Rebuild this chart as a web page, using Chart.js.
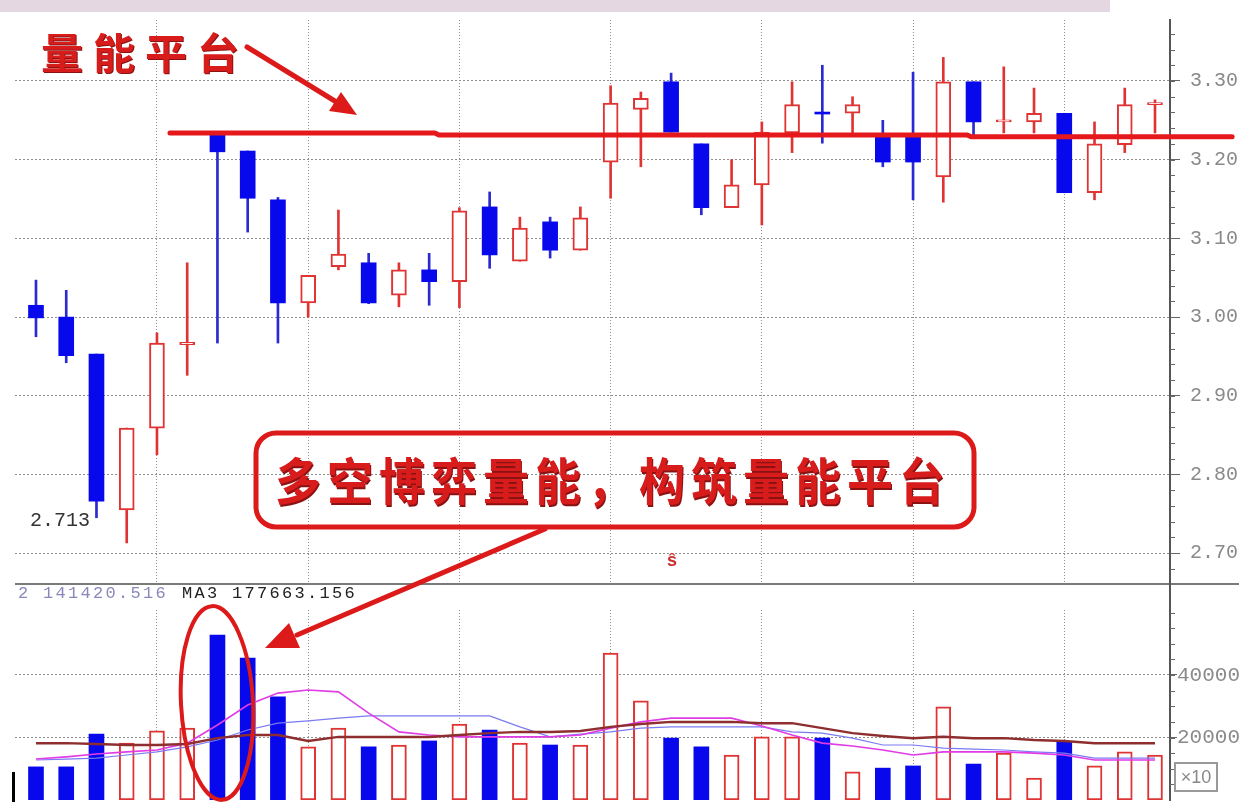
<!DOCTYPE html>
<html><head><meta charset="utf-8">
<script src="https://cdn.jsdelivr.net/npm/chart.js@4/dist/chart.umd.min.js"></script>
<style>
html,body{margin:0;padding:0;background:#fff;}
body{width:1239px;height:802px;position:relative;overflow:hidden;}
canvas{position:absolute;left:0;}
#pc{top:0;}
#vc{top:583px;}
.abs{position:absolute;white-space:nowrap;}
.cjk{font-family:"Noto Sans CJK SC","Noto Sans CJK JP",sans-serif;font-weight:700;color:#d81c1c;line-height:1;text-shadow:1px 1px 0 #8a1212;}
.mono{font-family:"Liberation Mono","DejaVu Sans Mono",monospace;line-height:1;}
</style></head><body>
<div class="abs" style="left:0;top:0;width:1110px;height:12px;background:#e4d7e2"></div>
<canvas id="pc" width="1239" height="584"></canvas>
<canvas id="vc" width="1239" height="219"></canvas>
<div class="abs" style="left:15px;top:583px;width:1224px;height:2px;background:#7a7a7a"></div>
<div class="abs" style="left:1169px;top:583px;width:2px;height:28px;background:#555"></div>
<div class="abs" style="left:12px;top:772px;width:3px;height:30px;background:#000"></div>
<div class="abs" style="left:1174px;top:762px;width:40px;height:26px;border:2px solid #9a9a9a;font:18px 'Liberation Sans',sans-serif;color:#888;line-height:26px;text-align:center">×10</div>

<div class="abs cjk" style="left:41px;top:30px;font-size:42px;letter-spacing:10px">量能平台</div>
<div class="abs cjk" style="left:275px;top:454px;font-size:46px;letter-spacing:6px;transform:scaleY(1.08);transform-origin:0 0">多空博弈量能，构筑量能平台</div>
<div class="abs mono" id="lowLabel" style="left:30px;top:511px;font-size:20px;color:#333"></div>
<div class="abs" style="left:667px;top:550px;font:bold 18px 'Liberation Sans',sans-serif;color:#c83030">ŝ</div>
<div class="abs mono" style="left:18px;top:585px;font-size:17px;letter-spacing:2.3px;color:#8888bb">2 141420.516</div>
<div class="abs mono" style="left:182px;top:585px;font-size:17px;letter-spacing:2.3px;color:#222">MA3 177663.156</div>

<svg class="abs" style="left:0;top:0;pointer-events:none" width="1239" height="802">
  <g stroke="#dd1a1a" fill="none">
    <line x1="247" y1="47" x2="338" y2="103" stroke-width="5" stroke-linecap="round"/>
    <rect x="256" y="433" width="718" height="94" rx="20" ry="20" stroke-width="5"/>
    <line x1="545" y1="529" x2="297" y2="635" stroke-width="5" stroke-linecap="round"/>
    <ellipse cx="217" cy="703" rx="36" ry="97" stroke-width="4" transform="rotate(-3 217 703)"/>
  </g>
  <g fill="#dd1a1a">
    <polygon points="357,115 329,111 341,92"/>
    <polygon points="265,648 289,623 300,648"/>
  </g>
</svg>

<script>
// ---- data ----
const days = Array.from({length: 38}, (_, i) => i + 1);
const open  = [3.015,3.000,2.953,2.755,2.859,2.965,3.231,3.211,3.149,3.018,3.064,3.069,3.028,3.060,3.045,3.140,3.071,3.121,3.085,3.197,3.264,3.299,3.220,3.139,3.168,3.234,3.259,3.259,3.229,3.229,3.178,3.299,3.248,3.248,3.259,3.158,3.219,3.270];
const high  = [3.047,3.034,2.953,2.859,2.980,3.069,3.234,3.211,3.152,3.053,3.136,3.081,3.069,3.081,3.139,3.159,3.127,3.127,3.140,3.294,3.286,3.310,3.220,3.200,3.248,3.299,3.320,3.280,3.250,3.311,3.330,3.299,3.318,3.291,3.259,3.248,3.291,3.276];
const low   = [2.975,2.942,2.745,2.713,2.825,2.926,2.967,3.108,2.967,3.000,3.060,3.017,3.013,3.015,3.012,3.062,3.071,3.075,3.085,3.151,3.191,3.235,3.130,3.139,3.117,3.209,3.221,3.231,3.191,3.149,3.146,3.231,3.234,3.234,3.158,3.149,3.209,3.234];
const close = [2.999,2.951,2.766,2.859,2.967,2.968,3.210,3.151,3.018,3.053,3.080,3.018,3.060,3.045,3.135,3.079,3.113,3.085,3.126,3.272,3.278,3.235,3.139,3.168,3.235,3.270,3.258,3.270,3.197,3.197,3.299,3.248,3.249,3.259,3.158,3.220,3.270,3.271];
const volume = [10600,10600,21100,18200,22100,23000,52800,45400,33000,17000,23000,17000,17600,18900,24300,22400,18200,17600,17600,47000,31700,19800,17000,14400,20200,20200,19800,9000,10200,10900,29800,11500,15000,7000,18600,10900,15400,14400];
const maBrown   = [18200,18200,17900,17600,17600,17900,19800,20800,20800,18900,20200,20200,20200,20200,20800,21400,21800,21800,22100,23400,24300,25000,25000,25000,24600,24600,23000,21400,20500,19800,20200,19800,19800,19200,18900,18200,18200,18200];
const maMagenta = [13100,13800,14700,15400,16000,18200,24000,30400,34200,35200,34600,27800,21800,20800,20200,20200,20200,20200,20800,23000,25000,26200,26200,26200,23700,20800,18200,17300,16000,14400,15400,15400,15400,15000,14400,12800,12800,12800];
const maBlue    = [12800,13100,13400,14400,15400,17000,19200,22400,24600,25300,26200,26900,26900,26900,26900,26900,23400,20200,21100,21800,23000,23400,23400,23400,23400,21800,21400,19800,17600,17600,16600,16300,16000,15400,15000,13400,13400,13400];
const priceTicks = [2.70, 2.80, 2.90, 3.00, 3.10, 3.20, 3.30];
const volTicks = [20000, 40000];
const vGridIdx = [4, 9, 14, 19, 24, 29, 34];
// platform annotation (x in candle index units, level in price)
const platformFrom  = [4.43, 13.19, 30.79];
const platformTo    = [13.19, 30.79, 39.55];
const platformLevel = [3.234, 3.2315, 3.229];

// ---- helpers ----
const BLUE = '#0808ec', BLUE_WICK = '#2a2ad0', RED = '#e03434';
const GRID = '#8e8e8e';
const idx = days.map((_, i) => i);
const up = idx.map(i => close[i] >= open[i]);
const priceMinor = []; for (let k = 134; k <= 168; k++) priceMinor.push(k / 50);
const volMinor = []; for (let k = 1; k <= 12; k++) volMinor.push(k * 5000);
document.getElementById('lowLabel').textContent = Math.min(...low).toFixed(3);

const xMin = -0.694, xMax = 37.496;
function xAxis() {
  return {
    type: 'linear', min: xMin, max: xMax, offset: false,
    afterBuildTicks: s => { s.ticks = vGridIdx.map(v => ({value: v})); },
    afterFit: s => { s.height = 0; s.paddingLeft = 0; s.paddingRight = 0; },
    ticks: {display: false},
    grid: {color: GRID, lineWidth: 1, drawTicks: false, offset: false},
    border: {display: false, dash: [1, 2]}
  };
}
function minorPlugin(values) {
  return {
    id: 'minorTicks',
    afterDraw(chart) {
      const ctx = chart.ctx, ys = chart.scales.y, x0 = chart.chartArea.right;
      ctx.save(); ctx.strokeStyle = '#666'; ctx.lineWidth = 1;
      values.forEach(v => {
        const py = Math.round(ys.getPixelForValue(v)) + 0.5;
        if (py < chart.chartArea.top || py > chart.chartArea.bottom) return;
        ctx.beginPath(); ctx.moveTo(x0, py); ctx.lineTo(x0 + 5, py); ctx.stroke();
      });
      ctx.restore();
    }
  };
}
const platformPlugin = {
  id: 'platform',
  afterDatasetsDraw(chart) {
    const ctx = chart.ctx, xs = chart.scales.x, ys = chart.scales.y;
    ctx.save(); ctx.strokeStyle = '#e5191b'; ctx.lineWidth = 5; ctx.lineCap = 'round'; ctx.lineJoin = 'round';
    ctx.beginPath();
    platformLevel.forEach((lv, k) => {
      const x1 = xs.getPixelForValue(platformFrom[k]), x2 = xs.getPixelForValue(platformTo[k]), py = ys.getPixelForValue(lv);
      if (k === 0) ctx.moveTo(x1, py); else ctx.lineTo(x1 + 4, py);
      ctx.lineTo(x2, py);
    });
    ctx.stroke(); ctx.restore();
  }
};

// ---- price chart ----
new Chart(document.getElementById('pc'), {
  type: 'bar',
  data: {
    datasets: [
      {
        type: 'bar', label: 'body', order: 0, grouped: false,
        data: idx.map(i => ({x: i, y: [open[i], close[i]]})),
        barThickness: 15, minBarLength: 2, borderSkipped: false,
        backgroundColor: idx.map(i => up[i] ? '#ffffff' : BLUE),
        borderColor: idx.map(i => up[i] ? RED : BLUE),
        borderWidth: idx.map(i => up[i] ? 2 : 0)
      },
      {
        type: 'bar', label: 'wick', order: 1, grouped: false,
        data: idx.map(i => ({x: i, y: [low[i], high[i]]})),
        barThickness: 2, borderSkipped: false,
        backgroundColor: idx.map(i => up[i] ? RED : BLUE_WICK)
      }
    ]
  },
  options: {
    responsive: false, animation: false,
    layout: {padding: {left: 15, top: 20, right: 0, bottom: 1}},
    plugins: {legend: {display: false}, tooltip: {enabled: false}},
    scales: {
      x: xAxis(),
      y: {
        position: 'right', min: 2.6621, max: 3.3775,
        afterBuildTicks: s => { s.ticks = priceTicks.map(v => ({value: v})); },
        afterFit: s => { s.width = 69; s.paddingTop = 0; s.paddingBottom = 0; },
        ticks: {padding: 10, color: '#8a8a8a', font: {family: 'Liberation Mono', size: 20}, callback: v => Number(v).toFixed(2)},
        grid: {color: GRID, lineWidth: 1, tickLength: 10, tickColor: '#666', tickWidth: 1},
        border: {display: true, color: '#555', width: 2, dash: [2, 2]}
      }
    }
  },
  plugins: [platformPlugin, minorPlugin(priceMinor)]
});

// ---- volume chart ----
new Chart(document.getElementById('vc'), {
  type: 'bar',
  data: {
    datasets: [
      {type: 'line', label: 'MA long', order: 0, data: idx.map(i => ({x: i, y: maBrown[i]})), borderColor: '#8e2e2e', borderWidth: 2.5, pointRadius: 0, tension: 0},
      {type: 'line', label: 'MA mid', order: 0, data: idx.map(i => ({x: i, y: maMagenta[i]})), borderColor: '#e03ce6', borderWidth: 1.6, pointRadius: 0, tension: 0},
      {type: 'line', label: 'MA short', order: 0, data: idx.map(i => ({x: i, y: maBlue[i]})), borderColor: '#7a7af2', borderWidth: 1.2, pointRadius: 0, tension: 0},
      {
        type: 'bar', label: 'volume', order: 1, grouped: false,
        data: idx.map(i => ({x: i, y: volume[i]})),
        barThickness: 15, borderSkipped: false,
        backgroundColor: idx.map(i => up[i] ? '#ffffff' : BLUE),
        borderColor: idx.map(i => up[i] ? RED : BLUE),
        borderWidth: idx.map(i => up[i] ? 2 : 0)
      }
    ]
  },
  options: {
    responsive: false, animation: false,
    layout: {padding: {left: 15, top: 27, right: 0, bottom: 2}},
    plugins: {legend: {display: false}, tooltip: {enabled: false}},
    scales: {
      x: xAxis(),
      y: {
        position: 'right', min: 0, max: 60800,
        afterBuildTicks: s => { s.ticks = volTicks.map(v => ({value: v})); },
        afterFit: s => { s.width = 69; s.paddingTop = 0; s.paddingBottom = 0; },
        ticks: {padding: 0, color: '#8a8a8a', font: {family: 'Liberation Mono', size: 21}, callback: v => String(v)},
        grid: {color: GRID, lineWidth: 1, tickLength: 7, tickColor: '#666', tickWidth: 1},
        border: {display: true, color: '#555', width: 2, dash: [2, 2]}
      }
    }
  },
  plugins: [minorPlugin(volMinor)]
});
</script>
</body></html>
